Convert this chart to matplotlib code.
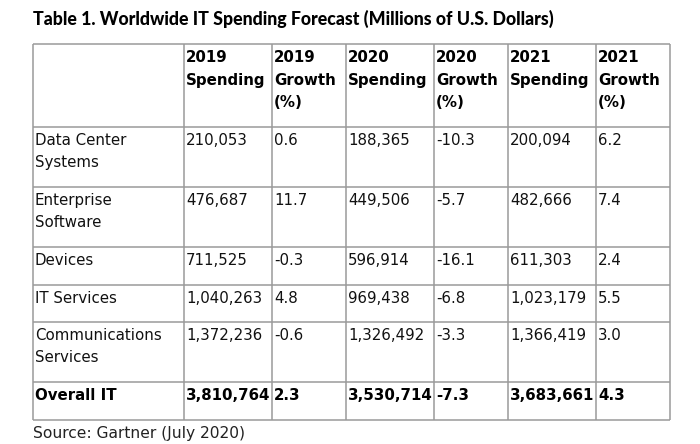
import matplotlib
matplotlib.use("Agg")
import matplotlib.pyplot as plt

# table content
title = "Table 1. Worldwide IT Spending Forecast (Millions of U.S. Dollars)"
source = "Source: Gartner (July 2020)"
headers = ["", "2019\nSpending", "2019\nGrowth\n(%)", "2020\nSpending",
           "2020\nGrowth\n(%)", "2021\nSpending", "2021\nGrowth\n(%)"]
segments = ["Data Center\nSystems", "Enterprise\nSoftware", "Devices",
            "IT Services", "Communications\nServices", "Overall IT"]
spend_2019 = ["210,053", "476,687", "711,525", "1,040,263", "1,372,236", "3,810,764"]
growth_2019 = ["0.6", "11.7", "-0.3", "4.8", "-0.6", "2.3"]
spend_2020 = ["188,365", "449,506", "596,914", "969,438", "1,326,492", "3,530,714"]
growth_2020 = ["-10.3", "-5.7", "-16.1", "-6.8", "-3.3", "-7.3"]
spend_2021 = ["200,094", "482,666", "611,303", "1,023,179", "1,366,419", "3,683,661"]
growth_2021 = ["6.2", "7.4", "2.4", "5.5", "3.0", "4.3"]

# grid layout (pixels)
col_x = [33, 184, 272, 346, 434, 508, 596, 670]
row_y = [44, 127, 187, 247, 285, 322, 382, 420]

fig = plt.figure(figsize=(7, 4.44), dpi=100)
ax = fig.add_axes([0, 0, 1, 1])
ax.set_xlim(0, 700)
ax.set_ylim(444, 0)
ax.axis("off")

line_c = "#9a9a9a"
ax.hlines(row_y, col_x[0], col_x[-1], colors=line_c, lw=1.1)
ax.vlines(col_x, row_y[0], row_y[-1], colors=line_c, lw=1.1)

body = dict(family="DejaVu Sans", fontsize=10.8, color="#111111",
            va="top", ha="left", linespacing=1.66)
bold = dict(body, fontweight="bold", color="#000000")

ax.text(col_x[0], 18.5, title, fontsize=12.8, fontweight="black",
        family=["Lato", "DejaVu Sans"], va="center", ha="left")

for j, h in enumerate(headers):
    ax.text(col_x[j] + 2, row_y[0] + 6.5, h, **dict(bold, linespacing=1.62))

columns = [segments, spend_2019, growth_2019, spend_2020, growth_2020,
           spend_2021, growth_2021]
for i in range(len(segments)):
    style = bold if segments[i] == "Overall IT" else body
    for j, col in enumerate(columns):
        ax.text(col_x[j] + 2, row_y[i + 1] + 5.5, col[i], **style)

ax.text(col_x[0], 433, source, family="DejaVu Sans", fontsize=11.2,
        color="#222222", va="center", ha="left")

fig.savefig("out.png", dpi=100)
